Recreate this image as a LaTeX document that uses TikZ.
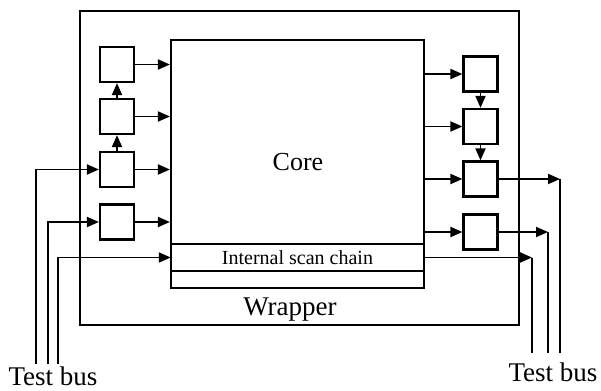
\documentclass[tikz,border=0pt]{standalone}
\usepackage{fontspec}
\setmainfont{Liberation Serif}
\usetikzlibrary{arrows.meta}
\begin{document}
\begin{tikzpicture}[x=1pt,y=-1pt,
  cell/.style={draw,line width=2.2pt,minimum width=34pt,minimum height=35pt,inner sep=0pt},
  arr/.style={line width=1.9pt,-{Triangle[length=12pt,width=10pt]}},
  bus/.style={line width=1.9pt},
  lbl/.style={font=\fontsize{26}{28}\selectfont,inner sep=0pt}]
\useasboundingbox (0,0) rectangle (601,390);
% wrapper and core
\node[draw,line width=1.8pt,minimum width=439pt,minimum height=314pt,inner sep=0pt] (wrapper) at (299.5,168) {};
\node[draw,line width=2.2pt,minimum width=253pt,minimum height=248pt,inner sep=0pt] (core) at (297.5,164) {};
\node[lbl,anchor=base] (corelabel) at (298,170) {Core};
\node[lbl,anchor=base,font=\fontsize{27}{29}\selectfont] (wraplabel) at (290,315) {Wrapper};
\node[minimum width=253pt,minimum height=27pt,inner sep=0pt,font=\fontsize{20}{22}\selectfont] (scan) at (297.5,257.5) {Internal scan chain};
\draw[line width=2pt] (scan.north west) -- (scan.north east);
\draw[line width=2pt] (scan.south west) -- (scan.south east);
% left cells
\node[cell] (L1) at (117,64.5) {};
\node[cell] (L2) at (117,116.5) {};
\node[cell] (L3) at (117,169.5) {};
\node[cell] (L4) at (117,222) {};
% right cells
\node[cell] (R1) at (480.5,74) {};
\node[cell] (R2) at (480.5,126.5) {};
\node[cell] (R3) at (480.5,179) {};
\node[cell] (R4) at (480.5,232) {};
% cell to core
\foreach \c in {L1,L2,L3,L4} \draw[arr] (\c.east) -- (\c.east -| core.west);
\foreach \c in {R1,R2,R3,R4} \draw[arr] (\c.west -| core.east) -- (\c.west);
\draw[arr] (L3.north) -- (L2.south);
\draw[arr] (L2.north) -- (L1.south);
\draw[arr] (R1.south) -- (R2.north);
\draw[arr] (R2.south) -- (R3.north);
% left test bus
\coordinate (bA) at (36,364);
\coordinate (bB) at (48,364);
\coordinate (bC) at (58,364);
\draw[arr] (bA) |- (L3.west);
\draw[arr] (bB) |- (L4.west);
\draw[arr] (bC) |- (scan.west);
% right test bus
\coordinate (rA) at (560,353);
\coordinate (rB) at (548,353);
\coordinate (rC) at (532,353);
\draw[arr] (R3.east) -- (R3.east -| rA);
\draw[bus] (R3.east -| rA) -- (rA);
\draw[arr] (R4.east) -- (R4.east -| rB);
\draw[bus] (R4.east -| rB) -- (rB);
\draw[arr] (scan.east) -- (scan.east -| rC);
\draw[bus] (scan.east -| rC) -- (rC);
% labels
\node[lbl,anchor=base,font=\fontsize{27}{29}\selectfont] (tbl) at (53,385) {Test bus};
\node[lbl,anchor=base,font=\fontsize{27}{29}\selectfont] (tbr) at (553,381) {Test bus};
\end{tikzpicture}
\end{document}
